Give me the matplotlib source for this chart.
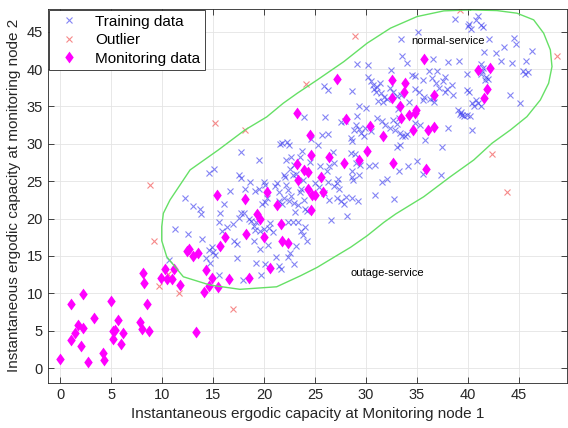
import matplotlib
matplotlib.use('Agg')
import matplotlib.pyplot as plt

plt.rcParams['font.family'] = ['Liberation Sans', 'DejaVu Sans']

# Training data (blue x), grouped by region
train_x = [10.7, 11.2, 12.2, 12.5, 13.0, 13.7, 13.8, 13.9, 14.3, 14.7,
           14.6, 14.9, 15.0, 15.2, 14.6, 15.1, 15.6, 15.6, 15.7, 15.9,
           16.1, 16.3, 16.6, 16.9, 17.5, 17.7, 17.7, 17.0, 17.3, 17.3,
           17.55, 17.7, 17.9, 18.0, 18.1, 18.5, 18.6, 18.7, 19.0, 19.0,
           19.1, 19.2, 19.2, 19.1, 19.45, 19.5, 19.6, 19.6, 19.7, 19.8,
           20.0, 20.1, 20.0, 20.1, 20.1, 20.3, 20.4, 20.5, 20.9, 20.6,
           21.1, 21.3, 21.2, 21.4, 21.4, 21.5, 21.7, 21.4, 21.6, 21.7,
           21.9, 22.0, 22.1, 21.9, 22.3, 22.4, 22.2, 22.4, 22.3, 22.5,
           22.8, 22.8, 22.9, 23.0, 23.1, 23.3, 23.5, 23.6, 23.8, 24.0,
           24.2, 23.8, 23.5, 23.7, 23.9, 24.0, 24.2, 24.5, 22.3, 22.6,
           22.9, 23.3, 22.1, 22.5, 22.9, 23.1, 22.6, 23.6, 23.9,
           # middle block
           25.3, 25.7, 26.3, 26.0, 26.6, 26.7, 26.8, 26.3, 26.8, 27.1,
           27.3, 25.9, 26.4, 27.1, 27.5, 27.8, 28.0, 28.6, 29.2, 27.2,
           26.4, 26.2, 25.5, 27.5, 27.9, 28.1, 28.5, 28.6, 28.5, 28.9,
           28.6, 28.6, 28.7, 29.0, 29.4, 29.3, 28.8, 29.1, 29.3, 29.0,
           29.5, 29.8, 29.9, 30.5, 30.3, 30.9, 30.9, 31.6, 32.0, 31.1,
           31.6, 31.9, 32.3, 32.7, 32.6, 32.8, 33.0, 33.0, 33.3, 33.1,
           33.2, 33.2, 33.3, 33.5, 33.8, 34.0, 34.1, 34.8, 35.0, 35.3,
           35.6, 35.8, 24.6, 25.0, 25.4,
           # upper block
           25.9, 26.3, 28.6, 29.1, 30.2, 29.3, 30.0, 30.2, 30.5, 30.7,
           30.8, 31.0, 31.4, 31.1, 31.5, 31.8, 31.2, 31.7, 32.0, 32.4,
           32.6, 32.3, 33.0, 33.4, 33.5, 33.4, 34.0, 34.2, 34.5, 34.8,
           34.8, 35.2, 35.1, 35.6, 35.6, 35.7, 36.3, 36.6, 36.6, 36.2,
           36.5, 36.9, 37.2, 37.0, 37.5, 37.9, 37.7, 38.0, 37.7, 38.5,
           36.7, 38.4, 37.4, 37.3, 38.0,
           # top right block
           38.7, 39.1, 39.0, 39.2, 39.4, 39.6, 39.9, 40.2, 39.3, 39.9,
           39.9, 40.1, 40.0, 40.1, 40.3, 40.4, 40.4, 40.6, 40.8, 41.0,
           41.3, 41.0, 40.8, 41.3, 41.5, 41.3, 41.5, 41.4, 41.3, 41.8,
           42.0, 41.7, 41.6, 42.1, 42.7, 43.2, 43.5, 44.3, 44.5, 44.7,
           44.1, 45.1, 45.4, 45.6, 45.9, 45.7, 46.3]
train_y = [14.5, 18.6, 22.8, 17.9, 21.7, 21.3, 20.6, 17.3, 14.7, 14.1,
           15.8, 16.2, 15.5, 15.1, 26.1, 26.7, 12.5, 19.5, 20.7, 18.4,
           22.0, 18.9, 23.7, 19.3, 25.8, 25.4, 28.9, 17.0, 16.6, 14.7,
           20.1, 20.8, 11.8, 20.7, 24.0, 20.0, 24.9, 19.7, 17.0, 19.0,
           18.5, 19.5, 14.0, 23.7, 27.9, 23.9, 15.9, 18.3, 12.4, 22.0,
           24.9, 24.5, 18.6, 13.9, 22.2, 22.7, 16.5, 18.8, 18.2, 19.4,
           24.4, 24.7, 14.8, 23.6, 13.7, 30.0, 30.1, 22.4, 13.2, 22.0,
           25.8, 25.5, 27.8, 22.8, 14.8, 22.3, 30.3, 29.9, 19.5, 15.4,
           19.6, 25.8, 13.9, 20.9, 16.3, 19.6, 23.6, 18.4, 17.8, 18.9,
           17.0, 25.2, 28.3, 29.0, 33.6, 21.3, 21.0, 27.6, 23.8, 23.0,
           22.1, 21.8, 24.5, 26.7, 27.2, 26.0, 28.3, 23.9, 22.5,
           # middle block
           29.8, 31.2, 31.3, 33.6, 19.8, 28.9, 27.4, 24.9, 24.4, 24.8,
           23.9, 23.4, 22.5, 22.7, 22.4, 22.0, 22.9, 22.7, 22.3, 25.3,
           27.0, 26.4, 27.0, 32.9, 33.0, 20.3, 30.8, 30.4, 28.8, 28.6,
           26.4, 25.6, 25.2, 27.4, 27.2, 25.8, 31.8, 33.7, 32.0, 32.5,
           31.5, 31.1, 32.1, 31.7, 27.1, 27.2, 23.1, 24.9, 25.3, 33.4,
           33.0, 32.5, 32.1, 22.6, 33.2, 31.9, 32.7, 29.6, 29.9, 34.7,
           33.4, 26.4, 31.4, 31.0, 31.1, 31.3, 27.1, 32.8, 27.7, 32.5,
           26.0, 30.5, 30.6, 24.8, 24.2,
           # upper block
           37.7, 37.2, 37.1, 40.7, 40.6, 35.0, 34.8, 39.0, 38.4, 37.9,
           37.4, 37.0, 38.1, 37.6, 36.8, 36.3, 35.7, 35.6, 36.0, 39.9,
           37.0, 37.5, 36.4, 36.6, 41.7, 44.0, 40.8, 35.6, 39.2, 39.1,
           37.3, 36.9, 44.9, 38.6, 35.9, 36.3, 36.0, 36.1, 41.4, 39.7,
           38.8, 38.2, 37.5, 39.7, 38.4, 37.4, 39.0, 41.0, 36.9, 36.5,
           35.6, 37.9, 29.6, 25.8, 32.1,
           # top right block
           46.7, 41.1, 34.5, 34.0, 33.8, 33.7, 33.8, 33.7, 34.3, 39.4,
           37.2, 37.0, 45.8, 46.1, 45.4, 31.9, 35.5, 35.0, 35.9, 35.4,
           35.1, 47.1, 46.6, 45.9, 45.7, 40.7, 40.2, 39.7, 39.4, 39.0,
           38.7, 38.6, 42.3, 44.0, 42.1, 41.1, 42.9, 40.8, 44.2, 43.3,
           36.6, 35.5, 39.8, 39.3, 39.6, 41.1, 42.4]

# Outliers (red x)
outlier_x = [8.8, 15.2, 18.1, 9.2, 9.7, 10.6, 11.6, 16.9, 28.95, 24.1, 39.2, 48.7, 42.4, 43.8]
outlier_y = [24.5, 32.8, 31.9, 17.0, 11.0, 12.6, 10.0, 7.9, 44.4, 38.0, 47.9, 41.8, 28.6, 23.5]

# Monitoring data (magenta diamonds)
monitor_x = [0.0, 1.0, 1.0, 1.45, 1.7, 2.2, 2.0, 2.2, 2.7, 3.3,
             4.15, 4.25, 5.0, 5.2, 5.2, 5.4, 5.6, 5.9, 6.15, 7.8,
             8.0, 8.1, 8.2, 8.5, 8.7,
             9.85, 10.3, 10.5, 10.95, 11.15, 11.75, 12.4, 12.65, 13.0, 13.5,
             13.3, 14.1, 14.3, 14.6, 14.85, 15.5, 15.7, 16.15, 16.5, 18.2,
             18.5, 19.3, 19.55, 20.0, 20.6, 21.6, 21.7, 15.4, 18.1, 20.3,
             21.3, 22.3,
             24.6, 23.3, 24.3, 24.7, 25.0, 25.8, 25.6, 23.25, 23.9, 24.3,
             24.55, 26.4, 27.8, 29.3, 30.1, 32.6, 35.9, 24.5, 23.2, 28.0,
             30.4, 31.7, 27.1, 32.5, 33.8, 33.7, 32.5, 33.3, 34.9, 34.8,
             34.2, 33.4, 34.6, 36.1, 36.7, 36.7, 35.7, 41.0, 42.2, 41.9,
             41.6]
monitor_y = [1.2, 3.7, 8.6, 4.7, 5.8, 5.4, 2.9, 9.9, 0.85, 6.7,
             2.05, 1.15, 9.0, 3.9, 4.9, 5.1, 6.4, 3.25, 4.7, 6.2,
             5.2, 12.7, 11.4, 8.6, 4.95,
             12.05, 13.25, 11.9, 11.95, 13.2, 11.1, 15.7, 16.0, 15.0, 15.4,
             4.85, 10.2, 13.1, 11.0, 12.1, 10.8, 16.3, 17.6, 11.95, 17.9,
             12.1, 20.6, 20.0, 17.5, 13.4, 19.3, 17.0, 23.1, 22.6, 23.5,
             21.8, 16.8,
             21.2, 25.1, 24.0, 23.2, 23.1, 23.5, 25.6, 27.3, 26.5, 26.2,
             28.5, 28.2, 27.4, 27.8, 29.1, 27.5, 26.6, 31.2, 34.1, 33.3,
             32.4, 31.1, 38.7, 38.5, 38.2, 36.9, 36.1, 35.0, 34.5, 34.1,
             33.8, 33.4, 31.8, 31.8, 32.2, 36.6, 41.3, 39.9, 40.2, 37.3,
             36.2]

# Decision boundary (green curve)
bound_x = [40.24, 37.62, 35.0, 32.39, 30.1, 27.81, 25.2, 23.24, 21.86, 20.24,
           18.11, 15.49, 12.72, 10.75, 10.1, 9.94, 9.94, 10.43, 12.06, 14.68,
           17.62, 21.22, 23.57, 25.2, 26.83, 28.47, 30.1, 31.74, 32.9, 35.66,
           38.27, 40.56, 42.35, 44.16, 45.78, 47.1, 47.91, 48.24, 48.08, 47.42,
           46.44, 44.8, 42.84, 40.24]
bound_y = [47.92, 47.79, 47.03, 45.48, 43.47, 41.0, 38.55, 36.77, 35.43, 33.6,
           31.86, 29.18, 26.51, 22.49, 20.71, 18.92, 17.04, 14.9, 12.22, 11.11,
           10.54, 10.88, 12.36, 13.48, 14.82, 16.16, 17.71, 19.5, 20.62, 22.93,
           25.61, 27.84, 30.08, 31.86, 33.64, 35.88, 38.11, 40.33, 42.57, 44.81,
           46.59, 47.48, 47.83, 47.92]

# MATLAB-like diamond (a bit wider than matplotlib's 'd')
diamond = [(0, 1), (0.72, 0), (0, -1), (-0.72, 0), (0, 1)]

fig = plt.figure(figsize=(5.68, 4.28), dpi=100)
ax = fig.add_axes([0.084, 0.105, 0.914, 0.875])

ax.plot(train_x, train_y, 'x', color='#3333ee', alpha=0.6, markersize=5,
        markeredgewidth=0.8, label='Training data')
ax.plot(outlier_x, outlier_y, 'x', color='#f03c3c', alpha=0.6, markersize=5,
        markeredgewidth=0.8, label='Outlier')
ax.plot(monitor_x, monitor_y, linestyle='none', marker=diamond, color='#ff00ff',
        markersize=8.5, markeredgewidth=0, label='Monitoring data')
ax.plot(bound_x, bound_y, '-', color='#66e066', linewidth=1.0)

ax.text(38.0, 43.8, 'normal-service', fontsize=8, ha='center', va='center')
ax.text(32.1, 12.7, 'outage-service', fontsize=8, ha='center', va='center')

ax.set_xlim(-1.25, 49.7)
ax.set_ylim(-2, 48.1)
ax.set_xticks(range(0, 50, 5))
ax.set_yticks(range(0, 50, 5))
ax.grid(True, color='#e4e4e4', linewidth=0.6)
ax.set_axisbelow(True)
ax.tick_params(direction='in', top=True, right=True, labelsize=10.5,
               length=4, width=0.6, colors='#262626')
for s in ax.spines.values():
    s.set_color('#262626')
    s.set_linewidth(0.6)

ax.set_xlabel('Instantaneous ergodic capacity at Monitoring node 1', fontsize=11, color='#262626')
ax.set_ylabel('Instantaneous ergodic capacity at monitoring node 2', fontsize=11, color='#262626')

leg = ax.legend(loc='upper left', fontsize=11, fancybox=False, framealpha=1,
                edgecolor='#262626', borderaxespad=0.1, handletextpad=0.7,
                borderpad=0.3, labelspacing=0.3)
leg.get_frame().set_linewidth(0.6)

fig.savefig('out.png', dpi=100)
